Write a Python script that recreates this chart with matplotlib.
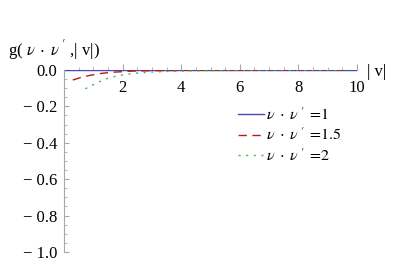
import numpy as np
import matplotlib
matplotlib.use("Agg")
import matplotlib.pyplot as plt
from matplotlib.ticker import FixedLocator, FuncFormatter

plt.rcParams['font.family'] = ['Liberation Serif', 'DejaVu Serif']
plt.rcParams['mathtext.fontset'] = 'stix'

# data
x_blue = [0.0, 10.0]
y_blue = [0.0, 0.0]

x_red = [0.3, 0.6, 0.9, 1.3, 1.7, 2.2, 2.6, 3.0, 3.5, 4.0, 5.0, 6.0, 7.0, 8.0, 9.5]
y_red = [-0.055, -0.040, -0.029, -0.018, -0.012, -0.007, -0.005, -0.004,
         -0.003, -0.002, -0.001, -0.0007, -0.0004, -0.0003, -0.0002]

x_green = [0.73, 1.0, 1.25, 1.5, 1.75, 2.1, 2.5, 3.0, 3.5, 4.0, 5.0, 6.0, 7.0, 8.0, 9.5]
y_green = [-0.103, -0.081, -0.062, -0.045, -0.035, -0.024, -0.017, -0.011,
           -0.008, -0.006, -0.003, -0.002, -0.0012, -0.0008, -0.0005]

labels = [r"$\nu\;\cdot\;\nu\;'\;=\!1$", r"$\nu\;\cdot\;\nu\;'\;=\!1.5$", r"$\nu\;\cdot\;\nu\;'\;=\!2$"]
x_ticks = [2, 4, 6, 8, 10]
y_ticks = [0.0, -0.2, -0.4, -0.6, -0.8, -1.0]

fs = 12
fig = plt.figure(figsize=(4.14, 2.70), dpi=100)
ax = fig.add_axes([64/414, 18/270, 293/414, 182/270])

ax.plot(x_blue, y_blue, color='#4a4ab0', lw=1.0, label=labels[0], zorder=2)
ax.plot(x_red, y_red, color='#b81a1a', lw=1.0, ls=(0, (6, 4)), label=labels[1], zorder=3)
ax.plot(x_green, y_green, color='#4fb04f', lw=1.0, ls=(0, (1.5, 4)), label=labels[2], zorder=4)

ax.set_xlim(0, 10)
ax.set_ylim(-1.0, 0.0)

axcol = '#a8a8a8'
for s in ['top', 'right']:
    ax.spines[s].set_visible(False)
ax.spines['bottom'].set_position(('data', 0))
ax.spines['bottom'].set_color(axcol)
ax.spines['left'].set_color(axcol)
ax.spines['bottom'].set_zorder(0)

ax.xaxis.set_major_locator(FixedLocator(x_ticks))
ax.xaxis.set_minor_locator(FixedLocator([v for v in np.arange(0.5, 10, 0.5) if v % 2 != 0]))
ax.yaxis.set_major_locator(FixedLocator(y_ticks))
ax.yaxis.set_minor_locator(FixedLocator([v for v in np.arange(-0.95, 0, 0.05) if abs(round(v / 0.2) * 0.2 - v) > 1e-6]))
ax.yaxis.set_major_formatter(FuncFormatter(lambda v, p: ('%.1f' % v).replace('-', '\u2212 ')))

ax.tick_params(axis='both', which='major', direction='in', color=axcol, labelsize=fs, labelcolor='black')
ax.tick_params(axis='x', which='major', length=4, pad=7)
ax.tick_params(axis='x', which='minor', direction='in', length=2.2, color=axcol)
ax.tick_params(axis='y', which='major', length=3.5, pad=5)
ax.tick_params(axis='y', which='minor', direction='in', length=2, color=axcol)

fig.text(8/414, 1 - 50/270, r"g( $\nu\;\cdot\;\nu\;'$ ,| v|)", fontsize=fs, va='center', ha='left')
fig.text(367/414, 1 - 72/270, "| v|", fontsize=fs, va='center', ha='left')

ax.legend(loc='upper left', bbox_to_anchor=(238/414, 1 - 107/270), bbox_transform=fig.transFigure,
          frameon=False, fontsize=11.5, borderpad=0, borderaxespad=0, handlelength=1.6,
          handletextpad=0.15, labelspacing=0.25)

fig.savefig('out.png', dpi=100)
